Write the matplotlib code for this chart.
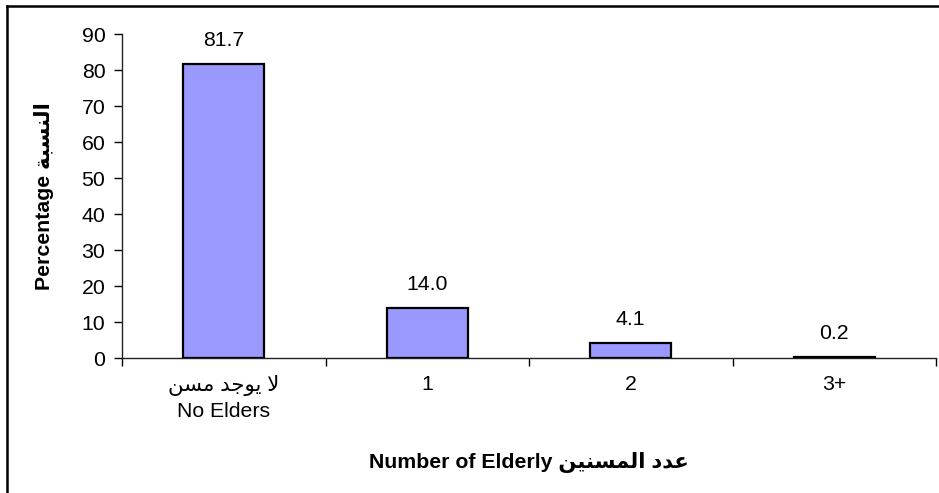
import matplotlib
matplotlib.use("Agg")
import matplotlib.pyplot as plt
from matplotlib.lines import Line2D

# ---- data ----
categories_ar = ["لا يوجد مسن", "", "", ""]
categories_en = ["No Elders", "1", "2", "3+"]
values = [81.7, 14.0, 4.1, 0.2]
value_labels = ["81.7", "14.0", "4.1", "0.2"]
yticks = [0, 10, 20, 30, 40, 50, 60, 70, 80, 90]
ylabel_en = "Percentage"
ylabel_ar = "النسبة"
xlabel_en = "Number of Elderly"
xlabel_ar = "عدد المسنين"

# ---- minimal Arabic shaper (contextual forms + visual order) ----
FORMS = {  # iso, fin, init, med
    "ا": ("\uFE8D", "\uFE8E", None, None),
    "ب": ("\uFE8F", "\uFE90", "\uFE91", "\uFE92"),
    "ة": ("\uFE93", "\uFE94", None, None),
    "ج": ("\uFE9D", "\uFE9E", "\uFE9F", "\uFEA0"),
    "د": ("\uFEA9", "\uFEAA", None, None),
    "س": ("\uFEB1", "\uFEB2", "\uFEB3", "\uFEB4"),
    "ع": ("\uFEC9", "\uFECA", "\uFECB", "\uFECC"),
    "ل": ("\uFEDD", "\uFEDE", "\uFEDF", "\uFEE0"),
    "م": ("\uFEE1", "\uFEE2", "\uFEE3", "\uFEE4"),
    "ن": ("\uFEE5", "\uFEE6", "\uFEE7", "\uFEE8"),
    "و": ("\uFEED", "\uFEEE", None, None),
    "ي": ("\uFEF1", "\uFEF2", "\uFEF3", "\uFEF4"),
    "لا": ("\uFEFB", "\uFEFC", None, None),
}


def shape_word(word):
    letters = []
    i = 0
    while i < len(word):
        if word[i] == "ل" and i + 1 < len(word) and word[i + 1] == "ا":
            letters.append("لا")
            i += 2
        else:
            letters.append(word[i])
            i += 1
    out = []
    for k, ch in enumerate(letters):
        f = FORMS.get(ch)
        if f is None:
            out.append(ch)
            continue
        prev = letters[k - 1] if k > 0 else None
        nxt = letters[k + 1] if k + 1 < len(letters) else None
        join_prev = prev is not None and prev in FORMS and FORMS[prev][2] is not None
        join_next = nxt is not None and nxt in FORMS and f[2] is not None
        if join_prev and join_next:
            out.append(f[3])
        elif join_prev:
            out.append(f[1])
        elif join_next:
            out.append(f[2])
        else:
            out.append(f[0])
    return "".join(out)


def ar(text):
    words = [shape_word(w) for w in text.split(" ")]
    return " ".join(w[::-1] for w in words[::-1])


plt.rcParams["font.family"] = ["Liberation Sans", "DejaVu Sans"]
FS = 15.3

fig = plt.figure(figsize=(9.39, 4.93), dpi=100)
W, H = 939, 493
ax = fig.add_axes([122 / W, 1 - 358 / H, (936 - 122) / W, (358 - 34) / H])

x = list(range(len(values)))
ax.bar(x, values, width=0.4, color="#9999FF", edgecolor="black", linewidth=1.6, zorder=3)
ax.set_xlim(-0.5, len(values) - 0.5)
ax.set_ylim(0, 90)
ax.set_yticks(yticks)
ax.set_yticklabels([str(t) for t in yticks], fontsize=FS)
ax.tick_params(axis="y", direction="out", length=6, width=1, pad=6)

ax.set_xticks([i - 0.5 for i in range(len(values) + 1)], minor=True)
ax.set_xticks(x)
labels = []
for a, e in zip(categories_ar, categories_en):
    labels.append(ar(a) + "\n" + e if a else e)
ax.set_xticklabels(labels, fontsize=FS, linespacing=1.45)
ax.tick_params(axis="x", which="major", length=0, pad=12)
ax.tick_params(axis="x", which="minor", direction="out", length=6, width=1)

for s in ["top", "right"]:
    ax.spines[s].set_visible(False)
for s in ["left", "bottom"]:
    ax.spines[s].set_linewidth(1)
    ax.spines[s].set_color("#222222")

for xi, v, lab in zip(x, values, value_labels):
    ax.annotate(lab, (xi, v), xytext=(0, 10), textcoords="offset points",
                ha="center", va="bottom", fontsize=FS)

ax.set_ylabel(ylabel_en + " " + ar(ylabel_ar), fontsize=FS, fontweight="bold", labelpad=20)
ax.set_xlabel(xlabel_en + " " + ar(xlabel_ar), fontsize=FS, fontweight="bold", labelpad=22)

# figure border (only top and left visible in the crop)
fig.add_artist(Line2D([7 / W, 7 / W], [0, 1 - 6 / H], color="black", linewidth=1.8,
                      transform=fig.transFigure))
fig.add_artist(Line2D([7 / W, 1], [1 - 6 / H, 1 - 6 / H], color="black", linewidth=1.8,
                      transform=fig.transFigure))

fig.savefig("out.png", dpi=100)
